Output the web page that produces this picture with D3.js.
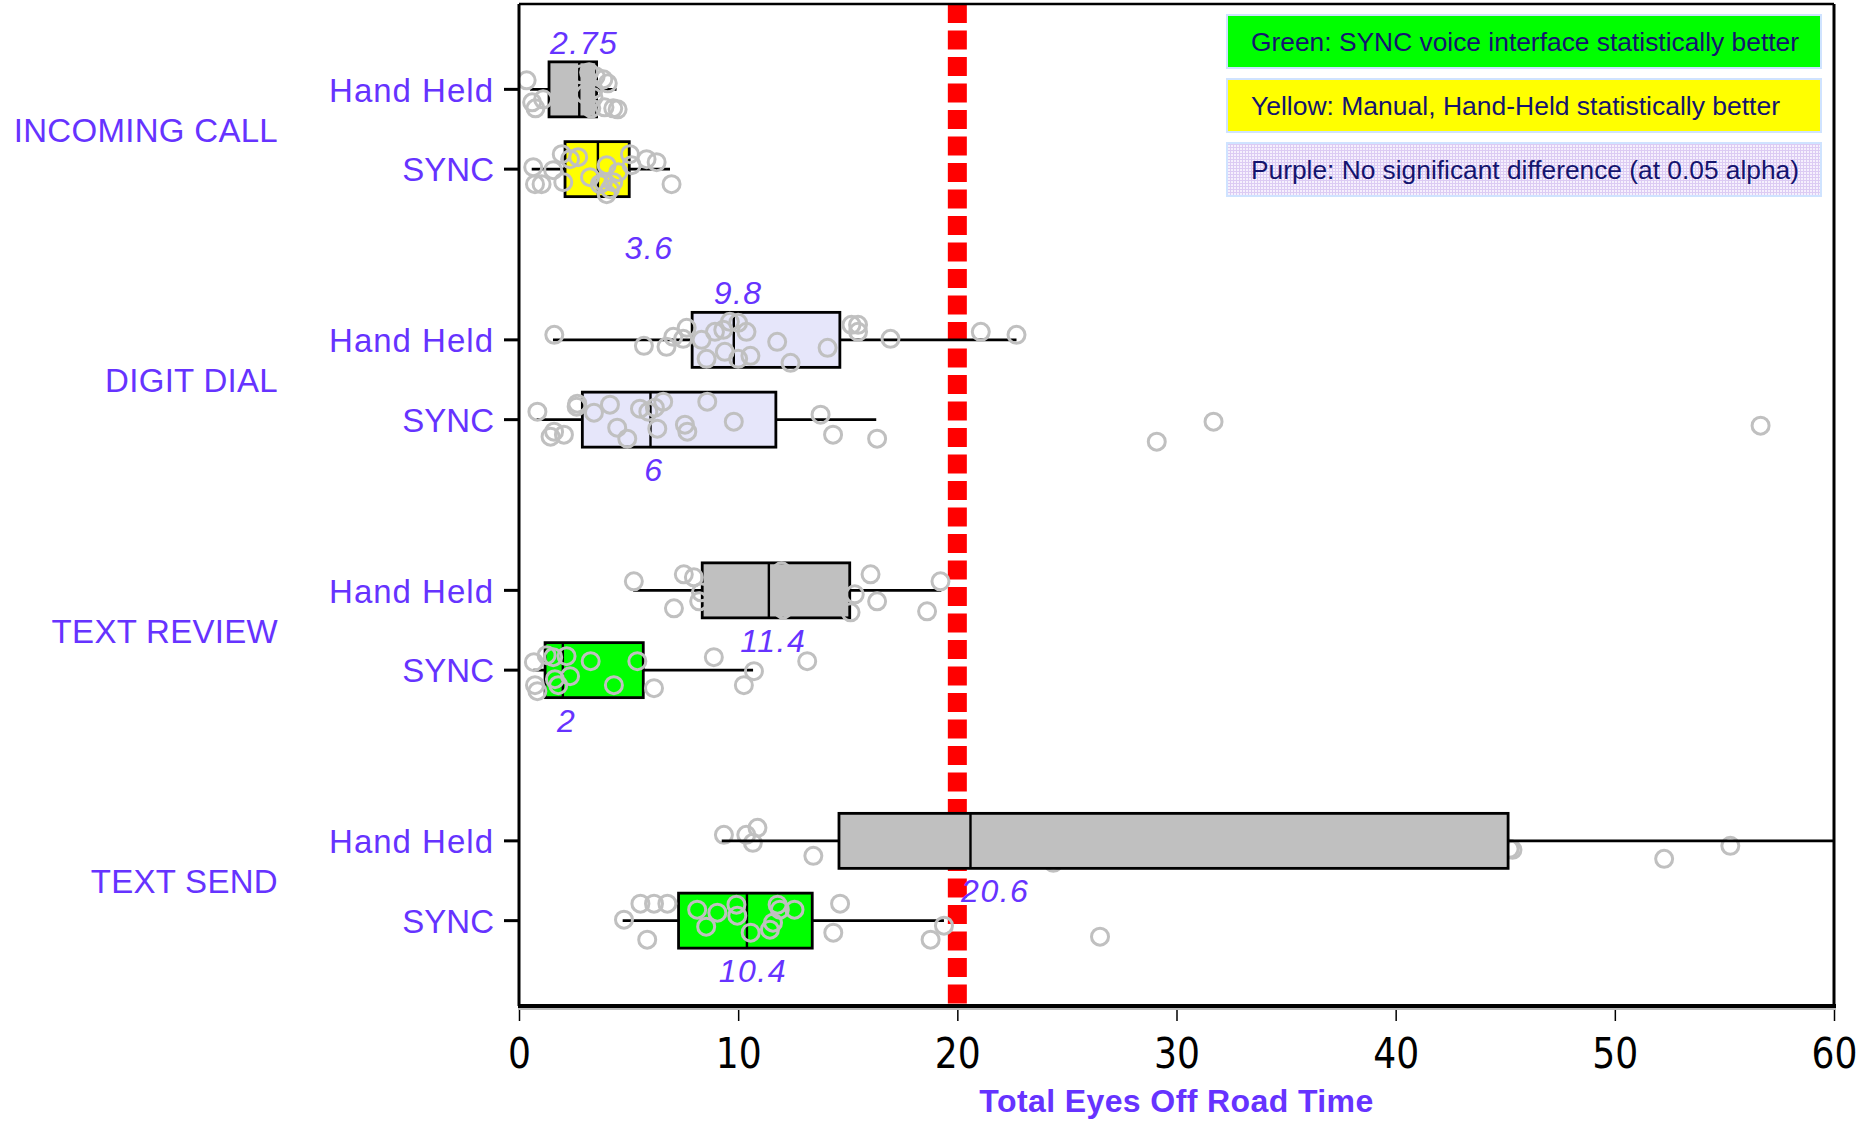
<!DOCTYPE html>
<html><head><meta charset="utf-8">
<script src="https://cdn.jsdelivr.net/npm/d3@7"></script>
<style>body{margin:0;background:#fff}svg{display:block}</style>
</head><body><svg id="c" width="1865" height="1121"></svg>
<script>
const tasks = ["INCOMING CALL","DIGIT DIAL","TEXT REVIEW","TEXT SEND"];
const modes = ["Hand Held","SYNC"];
const xTicks = [0,10,20,30,40,50,60];
const threshold = 20;
// one entry per (task, mode), top to bottom
const seriesTask = ["INCOMING CALL","INCOMING CALL","DIGIT DIAL","DIGIT DIAL","TEXT REVIEW","TEXT REVIEW","TEXT SEND","TEXT SEND"];
const seriesMode = ["Hand Held","SYNC","Hand Held","SYNC","Hand Held","SYNC","Hand Held","SYNC"];
const whiskerLow  = [0.5, 0.58, 1.55, 0.8, 5.21, 0.65, 9.25, 4.73];
const q1          = [1.37, 2.1, 7.9, 2.89, 8.36, 1.19, 14.6, 7.28];
const median      = [2.75, 3.6, 9.8, 6, 11.4, 2, 20.6, 10.4];
const q3          = [3.54, 5.03, 14.64, 11.72, 15.09, 5.67, 45.13, 13.38];
const whiskerHigh = [4.45, 6.89, 22.7, 16.3, 19.27, 10.68, 60, 19.39];
const significance = ["none","handheld","none_purple","none_purple","none","sync","none","sync"];
const medianLabel = ["2.75","3.6","9.8","6","11.4","2","20.6","10.4"];
const labelAt     = [2.97, 5.93, 10.0, 6.16, 11.6, 2.17, 21.73, 10.67];
const labelSide   = ["above","farBelow","above","below","below","below","below","below"];
// observations: [value, jitter(-1..1)]
const ptsIncomingHH = [[0.35,-0.36],[0.6,0.52],[0.75,0.76],[1.1,0.4],[2.85,-0.6],[3.2,-0.68],[3.5,-0.52],[3.85,-0.4],[4.05,-0.24],[3.4,0.0],[3.4,0.32],[3.3,0.76],[3.9,0.72],[4.3,0.76],[4.5,0.8],[3.0,0.2]];
const ptsIncomingSYNC = [[0.65,-0.08],[0.73,0.6],[1.03,0.6],[1.56,0.04],[1.95,-0.6],[2.02,0.52],[2.33,-0.4],[2.7,-0.48],[3.24,0.32],[3.69,0.6],[4.0,1.0],[4.0,-0.16],[4.3,0.52],[4.53,0.12],[5.06,-0.6],[5.14,-0.16],[5.82,-0.4],[6.28,-0.28],[6.96,0.6],[3.83,0.52],[4.15,0.8]];
const ptsDigitHH = [[1.61,-0.2],[5.7,0.24],[6.73,0.28],[7.04,-0.12],[7.49,-0.04],[7.65,-0.48],[8.33,0],[8.56,0.76],[8.94,-0.32],[9.32,-0.4],[9.39,0.48],[9.62,-0.72],[10.0,-0.68],[10.38,-0.32],[10.0,0.76],[10.56,0.64],[11.78,0.08],[12.39,0.92],[14.08,0.32],[15.17,-0.6],[15.47,-0.6],[15.47,-0.32],[16.95,-0.04],[21.07,-0.32],[22.7,-0.2]];
const ptsDigitSYNC = [[0.84,-0.32],[1.44,0.68],[1.6,0.48],[2.05,0.6],[2.63,-0.52],[2.66,-0.64],[3.42,-0.28],[4.15,-0.6],[4.48,0.32],[4.94,0.76],[5.52,-0.44],[5.9,-0.32],[6.2,-0.48],[6.58,-0.72],[6.31,0.36],[7.57,0.2],[7.68,0.48],[8.59,-0.72],[9.8,0.08],[13.76,-0.2],[14.33,0.6],[16.34,0.76],[29.1,0.88],[31.69,0.08],[56.65,0.24]];
const ptsReviewHH = [[5.24,-0.36],[7.07,0.72],[7.52,-0.64],[7.98,-0.52],[8.22,0.44],[8.3,0.08],[11.98,-0.76],[11.98,-0.44],[12.05,0.76],[15.32,0.16],[15.13,0.88],[16.04,-0.64],[16.34,0.44],[18.62,0.84],[19.23,-0.36]];
const ptsReviewSYNC = [[0.68,-0.32],[0.73,0.6],[0.84,0.84],[1.26,-0.6],[1.56,-0.52],[1.64,0.36],[1.79,0.6],[2.17,-0.56],[2.33,0.24],[3.27,-0.36],[4.33,0.6],[5.4,-0.36],[6.16,0.72],[8.89,-0.52],[10.72,0.04],[10.26,0.6],[13.15,-0.36]];
const ptsSendHH = [[9.35,-0.24],[10.37,-0.24],[10.88,-0.52],[10.67,0.08],[13.43,0.6],[24.38,0.88],[45.33,0.36],[45.2,0.32],[52.25,0.72],[55.27,0.2]];
const ptsSendSYNC = [[4.79,-0.04],[5.54,-0.68],[6.16,-0.68],[6.77,-0.68],[5.85,0.76],[8.13,-0.44],[8.54,0.24],[9.05,-0.32],[9.92,-0.64],[9.96,-0.2],[10.57,0.48],[11.45,0.36],[11.59,0.08],[11.8,-0.64],[11.9,-0.44],[12.57,-0.44],[14.65,-0.68],[14.34,0.48],[18.78,0.76],[19.39,0.2],[26.51,0.64]];
const seriesPoints = [ptsIncomingHH, ptsIncomingSYNC, ptsDigitHH, ptsDigitSYNC, ptsReviewHH, ptsReviewSYNC, ptsSendHH, ptsSendSYNC];
const legendItems = ["Green: SYNC voice interface statistically better","Yellow: Manual, Hand-Held statistically better","Purple: No significant difference (at 0.05 alpha)"];
const legendKeys = ["sync","handheld","none_purple"];
const xTitle = "Total Eyes Off Road Time";

// ---------- drawing ----------
const PURPLE = "#6633ff";
const fillFor = {none:"#c0c0c0", handheld:"#ffff00", none_purple:"#e6e6fa", sync:"#00ff00"};
const svg = d3.select("#c");
const L = 519, R = 1834, T = 4, B = 1006;
const x = d3.scaleLinear().domain([0,60]).range([L,R]);
const yGroup = d3.scaleBand().domain(tasks).range([T,B]).padding(0);
const ySub = d3.scalePoint().domain(modes).range([0, yGroup.bandwidth()]).padding(1.07);
const yPos = (t,m) => yGroup(t) + ySub(m);
const jitter = d3.scaleLinear().domain([-1,1]).range([-25,25]);
const boxH = 55;

const defs = svg.append("defs");
const pat = defs.append("pattern").attr("id","grid").attr("width",3).attr("height",3).attr("patternUnits","userSpaceOnUse");
pat.append("rect").attr("width",3).attr("height",3).attr("fill","#f6f0fd");
pat.append("path").attr("d","M0,0.5H3M0.5,0V3").attr("stroke","#dccbf3").attr("stroke-width",1);
defs.append("clipPath").attr("id","plotclip").append("rect").attr("x",L).attr("y",T).attr("width",R-L).attr("height",B-T);

// threshold line
svg.append("line").attr("x1",x(threshold)).attr("x2",x(threshold)).attr("y1",T).attr("y2",B)
  .attr("stroke","#ff0000").attr("stroke-width",19).attr("stroke-dasharray","19,7.5");

// boxes, then points (the wide TEXT SEND hand-held box is drawn above its own points)
const g = svg.append("g").attr("clip-path","url(#plotclip)");
function drawBox(i){
  const cy = yPos(seriesTask[i], seriesMode[i]);
  g.append("line").attr("x1",x(whiskerLow[i])).attr("x2",x(whiskerHigh[i])).attr("y1",cy).attr("y2",cy)
    .attr("stroke","#000").attr("stroke-width",2.6);
  g.append("rect").attr("x",x(q1[i])).attr("y",cy-boxH/2).attr("width",x(q3[i])-x(q1[i])).attr("height",boxH)
    .attr("fill",fillFor[significance[i]]).attr("stroke","#000").attr("stroke-width",2.8);
  g.append("line").attr("x1",x(median[i])).attr("x2",x(median[i])).attr("y1",cy-boxH/2).attr("y2",cy+boxH/2)
    .attr("stroke","#000").attr("stroke-width",2.4);
}
function drawPoints(i){
  const cy = yPos(seriesTask[i], seriesMode[i]);
  g.append("g").selectAll("circle").data(seriesPoints[i]).join("circle")
    .attr("cx",d=>x(d[0])).attr("cy",d=>cy+jitter(d[1])).attr("r",8.5)
    .attr("fill","none").attr("stroke","#c0c0c0").attr("stroke-width",3);
}
seriesTask.forEach((t,i) => { if (i !== 6) drawBox(i); });
seriesTask.forEach((t,i) => drawPoints(i));
drawBox(6);

// median labels
seriesTask.forEach((t,i) => {
  const cy = yPos(t, seriesMode[i]);
  const side = labelSide[i];
  const yb = side==="above" ? cy-boxH/2-8 : side==="below" ? cy+boxH/2+34 : cy+boxH/2+62;
  svg.append("text").attr("x",x(labelAt[i])).attr("y",yb).attr("text-anchor","middle")
    .attr("font-family","Liberation Sans, Arial, sans-serif").attr("font-style","italic").attr("font-size",32)
    .attr("letter-spacing",1.5).attr("fill",PURPLE).text(medianLabel[i]);
});

// frame
svg.append("line").attr("x1",L).attr("x2",R).attr("y1",T).attr("y2",T).attr("stroke","#000").attr("stroke-width",2.5);
svg.append("line").attr("x1",R).attr("x2",R).attr("y1",T).attr("y2",B).attr("stroke","#000").attr("stroke-width",3);
svg.append("line").attr("x1",L).attr("x2",L).attr("y1",T).attr("y2",B).attr("stroke","#000").attr("stroke-width",3);

// x axis
const xa = svg.append("g").attr("transform",`translate(0,${B})`)
  .call(d3.axisBottom(x).tickValues(xTicks).tickSize(15).tickSizeOuter(0).tickPadding(16));
xa.select(".domain").remove();
xa.selectAll(".tick line").attr("stroke","#000").attr("stroke-width",1.5);
xa.selectAll(".tick text").attr("font-family","DejaVu Sans, sans-serif").attr("font-size",43).attr("fill","#000")
  .attr("transform","scale(0.84,1)");
svg.append("line").attr("x1",L).attr("x2",R+2).attr("y1",B+3).attr("y2",B+3).attr("stroke","#bbbbbb").attr("stroke-width",2);
svg.append("line").attr("x1",L-1).attr("x2",R+2).attr("y1",B).attr("y2",B).attr("stroke","#000").attr("stroke-width",4);
svg.append("text").attr("x",(L+R)/2).attr("y",1112).attr("text-anchor","middle")
  .attr("font-family","Liberation Sans, Arial, sans-serif").attr("font-weight","bold").attr("font-size",32)
  .attr("letter-spacing",0.4).attr("fill",PURPLE).text(xTitle);

// y ticks and labels
seriesTask.forEach((t,i) => {
  const cy = yPos(t, seriesMode[i]);
  svg.append("line").attr("x1",L-15).attr("x2",L).attr("y1",cy).attr("y2",cy).attr("stroke","#000").attr("stroke-width",3);
  svg.append("text").attr("x",L-25).attr("y",cy).attr("dy","0.37em").attr("text-anchor","end")
    .attr("font-family","Liberation Sans, Arial, sans-serif").attr("font-size",33).attr("letter-spacing",seriesMode[i]==="SYNC"?0:1)
    .attr("fill",PURPLE).text(seriesMode[i]);
});
tasks.forEach(t => {
  svg.append("text").attr("x",278).attr("y",yGroup(t)+yGroup.bandwidth()/2).attr("dy","0.38em").attr("text-anchor","end")
    .attr("font-family","Liberation Sans, Arial, sans-serif").attr("font-size",33).attr("letter-spacing",0.3)
    .attr("fill",PURPLE).text(t);
});

// legend
const lg = svg.append("g");
const legY = d3.scalePoint().domain(legendKeys).range([15,143]);
const legW = d3.scaleOrdinal().domain(legendKeys).range([548,529,548]);
legendKeys.forEach((k,i) => {
  const y0 = legY(k);
  lg.append("rect").attr("x",1227).attr("y",y0).attr("width",594).attr("height",53)
    .attr("fill", k==="none_purple" ? "url(#grid)" : fillFor[k]).attr("stroke","#cfe3ff").attr("stroke-width",2);
  lg.append("text").attr("x",1251).attr("y",y0+36).attr("font-family","Liberation Sans, Arial, sans-serif")
    .attr("font-size",26).attr("fill","#14146e").attr("textLength",legW(k)).attr("lengthAdjust","spacingAndGlyphs")
    .text(legendItems[i]);
});
</script></body></html>
